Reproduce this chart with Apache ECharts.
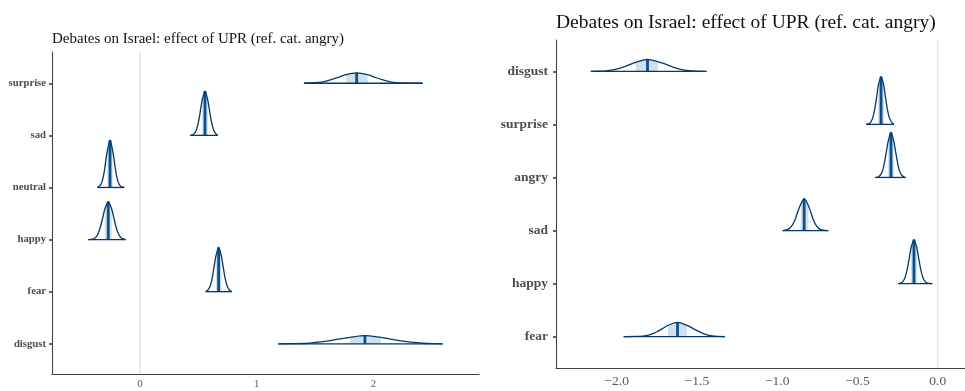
<!DOCTYPE html>
<html>
<head>
<meta charset="utf-8">
<script src="https://cdn.jsdelivr.net/npm/echarts@6/dist/echarts.min.js"></script>
<style>
  html, body { margin: 0; padding: 0; background: #fff; }
  #chart { width: 965px; height: 391px; }
</style>
</head>
<body>
<div id="chart"></div>
<script>
// Left panel: posterior densities, categories listed bottom to top
const leftCategories = ['disgust', 'fear', 'happy', 'neutral', 'sad', 'surprise'];
const leftMedians = [1.928, 0.674, -0.272, -0.257, 0.557, 1.857];
const leftIntervals = [[1.80, 2.065], [0.650, 0.698], [-0.302, -0.242], [-0.28, -0.234], [0.533, 0.581], [1.765, 1.951]];
// density outlines: [value, height in row units]
const leftCurves = [
  [[1.185, 0], [1.33, 0.002], [1.44, 0.01], [1.53, 0.03], [1.63, 0.06], [1.73, 0.10], [1.80, 0.124], [1.928, 0.155], [2.065, 0.122], [2.125, 0.10], [2.22, 0.06], [2.32, 0.03], [2.42, 0.01], [2.52, 0.002], [2.594, 0]],
  [[0.563, 0], [0.584, 0.037], [0.602, 0.115], [0.62, 0.276], [0.638, 0.516], [0.650, 0.677], [0.674, 0.85], [0.698, 0.677], [0.71, 0.516], [0.728, 0.276], [0.746, 0.115], [0.764, 0.037], [0.786, 0]],
  [[-0.443, 0], [-0.407, 0.008], [-0.385, 0.032], [-0.362, 0.099], [-0.34, 0.237], [-0.317, 0.443], [-0.302, 0.582], [-0.272, 0.73], [-0.242, 0.582], [-0.227, 0.443], [-0.205, 0.237], [-0.182, 0.099], [-0.16, 0.032], [-0.137, 0.008], [-0.123, 0]],
  [[-0.366, 0], [-0.341, 0.04], [-0.324, 0.123], [-0.307, 0.296], [-0.291, 0.552], [-0.28, 0.70], [-0.257, 0.91], [-0.234, 0.70], [-0.223, 0.552], [-0.207, 0.296], [-0.19, 0.123], [-0.173, 0.04], [-0.156, 0.01], [-0.135, 0]],
  [[0.431, 0], [0.449, 0.009], [0.467, 0.037], [0.485, 0.115], [0.503, 0.276], [0.521, 0.516], [0.533, 0.677], [0.557, 0.85], [0.581, 0.677], [0.593, 0.516], [0.611, 0.276], [0.629, 0.115], [0.647, 0.037], [0.666, 0]],
  [[1.405, 0], [1.5, 0.01], [1.557, 0.022], [1.632, 0.065], [1.707, 0.12], [1.765, 0.166], [1.857, 0.2], [1.951, 0.164], [2.007, 0.12], [2.082, 0.065], [2.157, 0.022], [2.25, 0.006], [2.422, 0]]
];
const leftXTicks = [0, 1, 2];

// Right panel
const rightCategories = ['fear', 'happy', 'sad', 'angry', 'surprise', 'disgust'];
const rightMedians = [-1.621, -0.148, -0.832, -0.291, -0.353, -1.808];
const rightIntervals = [[-1.68, -1.561], [-0.167, -0.129], [-0.854, -0.806], [-0.309, -0.273], [-0.371, -0.335], [-1.881, -1.742]];
const rightCurves = [
  [[-1.956, 0], [-1.882, 0.004], [-1.8385, 0.012], [-1.795, 0.036], [-1.7515, 0.088], [-1.708, 0.164], [-1.68, 0.215], [-1.621, 0.27], [-1.561, 0.213], [-1.534, 0.17], [-1.49, 0.10], [-1.447, 0.045], [-1.404, 0.015], [-1.326, 0]],
  [[-0.246, 0], [-0.232, 0.009], [-0.218, 0.037], [-0.204, 0.112], [-0.19, 0.27], [-0.176, 0.504], [-0.167, 0.66], [-0.148, 0.83], [-0.129, 0.66], [-0.12, 0.504], [-0.106, 0.27], [-0.092, 0.112], [-0.078, 0.037], [-0.064, 0.009], [-0.034, 0]],
  [[-0.966, 0], [-0.949, 0.007], [-0.93, 0.026], [-0.91, 0.081], [-0.89, 0.195], [-0.871, 0.364], [-0.854, 0.49], [-0.832, 0.6], [-0.806, 0.47], [-0.793, 0.364], [-0.774, 0.195], [-0.754, 0.081], [-0.735, 0.026], [-0.715, 0.007], [-0.682, 0]],
  [[-0.389, 0], [-0.372, 0.009], [-0.359, 0.037], [-0.345, 0.115], [-0.332, 0.276], [-0.318, 0.516], [-0.309, 0.677], [-0.291, 0.85], [-0.273, 0.677], [-0.264, 0.516], [-0.25, 0.276], [-0.237, 0.115], [-0.223, 0.037], [-0.21, 0.009], [-0.2, 0]],
  [[-0.447, 0], [-0.431, 0.01], [-0.418, 0.04], [-0.405, 0.122], [-0.392, 0.293], [-0.379, 0.546], [-0.371, 0.717], [-0.353, 0.9], [-0.335, 0.717], [-0.327, 0.546], [-0.314, 0.293], [-0.301, 0.122], [-0.288, 0.04], [-0.278, 0.01], [-0.272, 0]],
  [[-2.161, 0], [-2.117, 0.003], [-2.066, 0.01], [-2.014, 0.031], [-1.963, 0.073], [-1.911, 0.137], [-1.881, 0.17], [-1.808, 0.226], [-1.742, 0.18], [-1.705, 0.145], [-1.654, 0.085], [-1.602, 0.038], [-1.551, 0.012], [-1.5, 0.003], [-1.44, 0]]
];
const rightXTicks = [-2.0, -1.5, -1.0, -0.5, 0.0];

// reference value marked by a vertical guide in each panel
const referenceValue = [0];

const SERIF = "'Liberation Serif', 'DejaVu Serif', serif";
const OUTLINE = '#03396c';
const MEDIAN = '#0a4f8e';
const INNER = '#d1e1ec';

function ridgeRenderer(curves, medians, intervals) {
  return function (params, api) {
    const i = params.dataIndex;
    const curve = curves[i];
    const row = i + 1;
    const pts = curve.map(p => api.coord([p[0], row + p[1]]));
    const lo = api.coord([intervals[i][0], row]);
    const hi = api.coord([intervals[i][1], row]);
    const xs = pts.map(p => p[0]);
    const ys = pts.map(p => p[1]);
    const box = [[Math.min.apply(null, xs), Math.min.apply(null, ys)], [Math.max.apply(null, xs), Math.max.apply(null, ys)]];
    const topY = box[0][1];
    const medPoint = curve.find(p => p[0] === medians[i]);
    const m0 = api.coord([medians[i], row]);
    const m1 = api.coord([medians[i], row + medPoint[1]]);
    return {
      type: 'group',
      children: [
        {
          type: 'polygon',
          shape: { points: pts, smooth: 0.3, smoothConstraint: box },
          style: { fill: INNER, stroke: 'none' },
          clipPath: { type: 'rect', shape: { x: lo[0], y: topY - 3, width: hi[0] - lo[0], height: lo[1] - topY + 4 } }
        },
        {
          type: 'line',
          shape: { x1: m0[0], y1: m0[1], x2: m1[0], y2: m1[1] },
          style: { stroke: MEDIAN, lineWidth: 2.8 }
        },
        {
          type: 'polyline',
          shape: { points: pts, smooth: 0.3, smoothConstraint: box },
          style: { stroke: OUTLINE, lineWidth: 1.3, fill: 'none' }
        },
        {
          type: 'line',
          shape: { x1: pts[0][0], y1: pts[0][1], x2: pts[pts.length - 1][0], y2: pts[pts.length - 1][1] },
          style: { stroke: OUTLINE, lineWidth: 1.3 }
        }
      ]
    };
  };
}

function guideRenderer(yMin, yMax) {
  return function (params, api) {
    const x = api.value(0);
    const a = api.coord([x, yMin]);
    const b = api.coord([x, yMax]);
    return {
      type: 'line',
      shape: { x1: a[0], y1: a[1], x2: b[0], y2: b[1] },
      style: { stroke: '#e6e6e6', lineWidth: 1.8 }
    };
  };
}

function yAxisFor(gridIndex, categories, min, max, fontSize, margin) {
  return {
    type: 'value', gridIndex: gridIndex, min: min, max: max,
    axisLine: { show: true, onZero: false, lineStyle: { color: '#444', width: 1.1 } },
    axisTick: { show: true, length: 3, customValues: [1, 2, 3, 4, 5, 6], lineStyle: { color: '#333', width: 1.5 } },
    axisLabel: {
      customValues: [1, 2, 3, 4, 5, 6],
      formatter: v => categories[Math.round(v) - 1] || '',
      fontFamily: SERIF, fontWeight: 'bold', fontSize: fontSize, color: '#4d4d4d', margin: margin
    },
    splitLine: { show: false }
  };
}

function xAxisFor(gridIndex, ticks, min, max, fontSize, margin, fmt) {
  return {
    type: 'value', gridIndex: gridIndex, min: min, max: max,
    axisLine: { show: true, onZero: false, lineStyle: { color: '#444', width: 1.1 } },
    axisTick: { show: false },
    axisLabel: {
      customValues: ticks, formatter: fmt,
      fontFamily: SERIF, fontSize: fontSize, color: '#595959', margin: margin
    },
    splitLine: { show: false }
  };
}

const LEFT_Y = [0.42, 6.6];
const RIGHT_Y = [0.41, 6.59];

const chart = echarts.init(document.getElementById('chart'), null, { renderer: 'canvas' });
chart.setOption({
  animation: false,
  backgroundColor: '#ffffff',
  title: [
    {
      text: 'Debates on Israel: effect of UPR (ref. cat. angry)',
      left: 52, top: 32, padding: 0,
      textStyle: { fontFamily: SERIF, fontWeight: 'normal', fontSize: 15, color: '#111' }
    },
    {
      text: 'Debates on Israel: effect of UPR (ref. cat. angry)',
      left: 556, top: 13, padding: 0,
      textStyle: { fontFamily: SERIF, fontWeight: 'normal', fontSize: 19.5, color: '#111' }
    }
  ],
  grid: [
    { left: 52, top: 52, width: 427, height: 322 },
    { left: 556, top: 40, width: 409, height: 328 }
  ],
  xAxis: [
    xAxisFor(0, leftXTicks, -0.7543, 2.9057, 10.7, 5, v => String(Math.round(v))),
    xAxisFor(1, rightXTicks, -2.378, 0.170, 13.5, 6, v => v.toFixed(1).replace('-', '\u2212'))
  ],
  yAxis: [
    yAxisFor(0, leftCategories, LEFT_Y[0], LEFT_Y[1], 10.7, 6),
    yAxisFor(1, rightCategories, RIGHT_Y[0], RIGHT_Y[1], 13.5, 8)
  ],
  series: [
    {
      type: 'custom', xAxisIndex: 0, yAxisIndex: 0, clip: false, z: 1,
      data: referenceValue.map(v => [v, LEFT_Y[0]]),
      encode: { x: 0, y: 1 },
      renderItem: guideRenderer(LEFT_Y[0], LEFT_Y[1])
    },
    {
      type: 'custom', xAxisIndex: 1, yAxisIndex: 1, clip: false, z: 1,
      data: referenceValue.map(v => [v, RIGHT_Y[0]]),
      encode: { x: 0, y: 1 },
      renderItem: guideRenderer(RIGHT_Y[0], RIGHT_Y[1])
    },
    {
      type: 'custom', xAxisIndex: 0, yAxisIndex: 0, clip: false, z: 2,
      data: leftMedians.map((m, i) => [m, i + 1]),
      encode: { x: 0, y: 1 },
      renderItem: ridgeRenderer(leftCurves, leftMedians, leftIntervals)
    },
    {
      type: 'custom', xAxisIndex: 1, yAxisIndex: 1, clip: false, z: 2,
      data: rightMedians.map((m, i) => [m, i + 1]),
      encode: { x: 0, y: 1 },
      renderItem: ridgeRenderer(rightCurves, rightMedians, rightIntervals)
    }
  ]
});
</script>
</body>
</html>
